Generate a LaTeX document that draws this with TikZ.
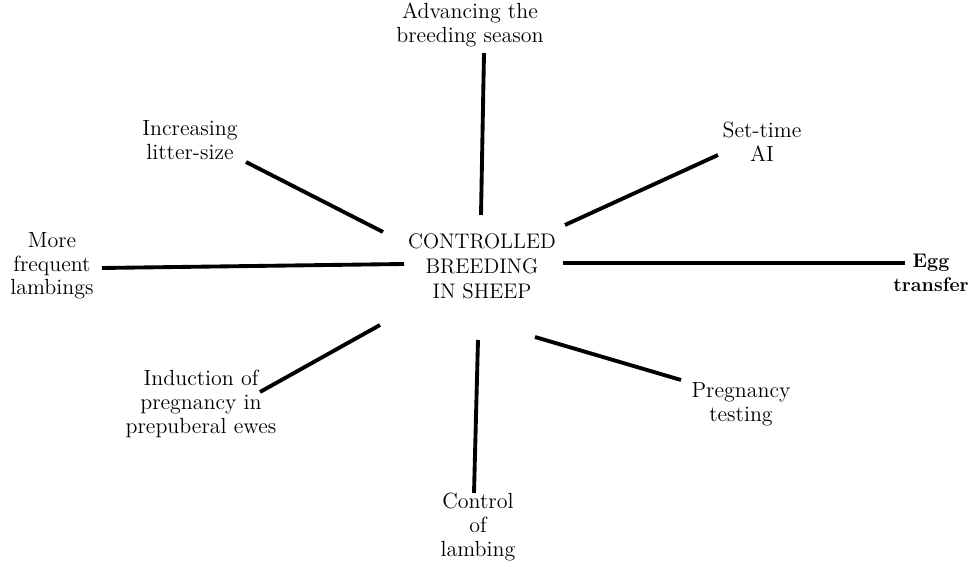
\documentclass[tikz,border=0pt]{standalone}
\usetikzlibrary{positioning}
\begin{document}
\begin{tikzpicture}[x=0.02cm,y=-0.02cm,line width=2.2pt,draw=black!100]
	\tikzstyle{aim}=[align=center,font=\fontsize{12.5}{13.5}\selectfont,inner sep=0pt]
	\tikzstyle{hub}=[align=center,font=\fontsize{12}{14.2}\selectfont,inner sep=2pt]
	\tikzstyle{spoke}=[line cap=butt]
	\useasboundingbox (0,0) rectangle (971,563);

	% centre
	\node[hub] (hub) at (482,266) {CONTROLLED\\BREEDING\\IN SHEEP};

	% aims
	\node[aim] (advance)	at (470,25)	{Advancing the\\breeding season};
	\node[aim] (litter)	at (190,140)	{Increasing\\litter-size};
	\node[aim] (ai)		at (762,142)	{Set-time\\AI};
	\node[aim,font=\fontsize{11.2}{13.5}\selectfont\bfseries] (egg) at (931,273) {Egg\\transfer};
	\node[aim] (frequent)	at (52,266)	{More\\frequent\\lambings};
	\node[aim] (induction)	at (201,404)	{Induction of\\pregnancy in\\prepuberal ewes};
	\node[aim] (testing)	at (741,404)	{Pregnancy\\testing};
	\node[aim] (lambing)	at (478,527)	{Control\\of\\lambing};

	% spoke ends
	\coordinate (advance-a)		at (484,53);
	\coordinate (advance-b)		at (481,215);
	\coordinate (litter-a)		at (246,162);
	\coordinate (litter-b)		at (383,232);
	\coordinate (ai-a)		at (718,155);
	\coordinate (ai-b)		at (565,225);
	\coordinate (egg-a)		at (905,263);
	\coordinate (egg-b)		at (563,263);
	\coordinate (frequent-a)	at (102,268);
	\coordinate (frequent-b)	at (404,264);
	\coordinate (induction-a)	at (260,392);
	\coordinate (induction-b)	at (380,325);
	\coordinate (testing-a)		at (681,380);
	\coordinate (testing-b)		at (535,337);
	\coordinate (lambing-a)		at (474,493);
	\coordinate (lambing-b)		at (478,340);

	\path[spoke]
		(advance-a)	edge	(advance-b)
		(litter-a)	edge	(litter-b)
		(ai-a)		edge	(ai-b)
		(egg-a)		edge	(egg-b)
		(frequent-a)	edge	(frequent-b)
		(induction-a)	edge	(induction-b)
		(testing-a)	edge	(testing-b)
		(lambing-a)	edge	(lambing-b);
\end{tikzpicture}
\end{document}
